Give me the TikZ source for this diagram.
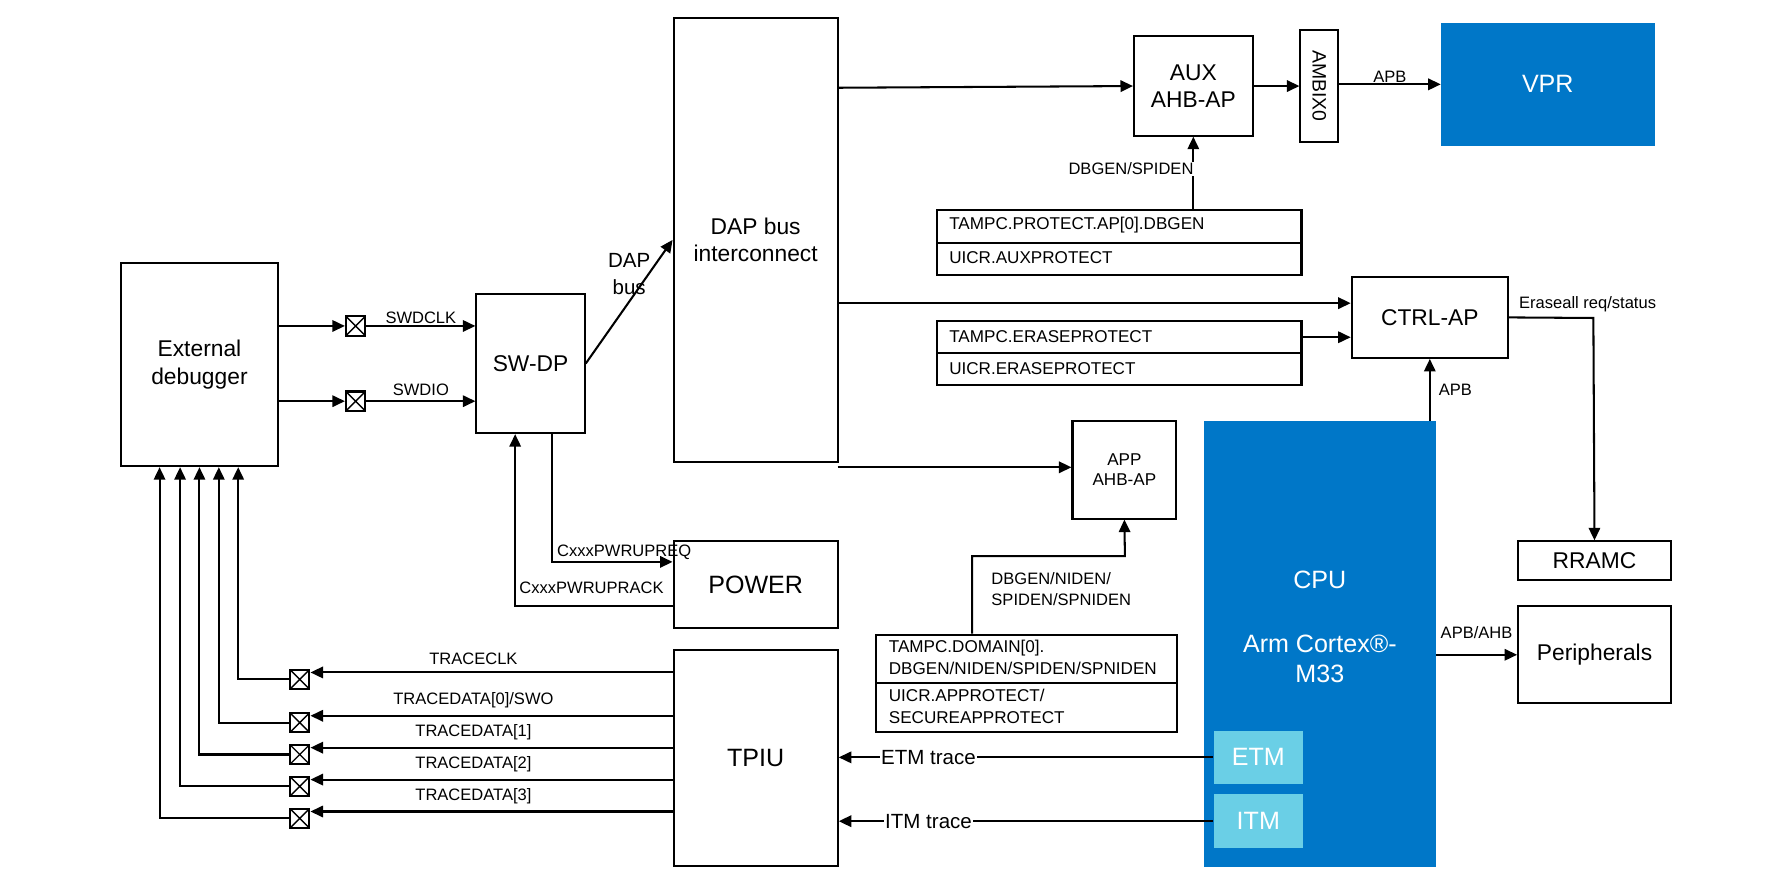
\documentclass[tikz,border=0pt]{standalone}
\usepackage{fontspec}
\setmainfont{Liberation Sans}
\usetikzlibrary{arrows.meta}
\definecolor{nblue}{HTML}{0077C8}
\definecolor{lblue}{HTML}{6ACFE6}
\begin{document}
\begin{tikzpicture}[x=1pt,y=-1pt,line width=1.8pt,
 box/.style={draw,line width=1.8pt,inner sep=0,align=center,font=\fontsize{20}{24}\selectfont},
 tbl/.style={draw,line width=1.8pt,inner sep=0,anchor=north west},
 lbl/.style={font=\fontsize{14.5}{18}\selectfont,inner sep=1pt},
 sl/.style={font=\fontsize{15}{19}\selectfont,inner sep=0,anchor=west,align=left},
 arr/.style={-{Triangle[length=11pt,width=10pt]}},
 xbox/.style={draw,line width=1.8pt,minimum size=17,inner sep=0,path picture={\draw[line width=1.2pt] (path picture bounding box.south west)--(path picture bounding box.north east) (path picture bounding box.north west)--(path picture bounding box.south east);}},
 blue/.style={fill=nblue,draw=nblue,text=white,inner sep=0,align=center}]
\useasboundingbox (0,0) rectangle (1560,783);
% main boxes
\node[box,minimum width=138,minimum height=178] (ext) at (175,320) {External\\debugger};
\node[box,minimum width=95,minimum height=122] (swdp) at (465.5,319) {SW-DP};
\node[box,minimum width=144,minimum height=389] (dap) at (663,210.5) {DAP bus\\interconnect};
\node[box,minimum width=104,minimum height=87] (aux) at (1047,75.5) {AUX\\AHB-AP};
\node[box,minimum width=33,minimum height=99] (ambix) at (1157.5,75.5) {};
\node[rotate=-90,font=\fontsize{17}{20}\selectfont] at (ambix) {AMBIX0};
\node[blue,minimum width=186,minimum height=106,font=\fontsize{22}{26}\selectfont] (vpr) at (1358,74) {VPR};
\node[box,minimum width=137,minimum height=71] (ctrl) at (1254.5,278.5) {CTRL-AP};
\node[box,minimum width=134,minimum height=34] (rramc) at (1399,492) {RRAMC};
\node[box,minimum width=134,minimum height=85] (per) at (1399,574.5) {Peripherals};
\node[box,minimum width=91,minimum height=86,font=\fontsize{15}{17}\selectfont] (app) at (986.5,412) {APP\\AHB-AP};
\node[box,minimum width=144,minimum height=76,font=\fontsize{22}{26}\selectfont] (pow) at (663,513) {POWER};
\node[box,minimum width=144,minimum height=190,font=\fontsize{22}{26}\selectfont] (tpiu) at (663,665) {TPIU};
% CPU
\node[blue,minimum width=202,minimum height=390] (cpu) at (1158,565) {};
\node[text=white,font=\fontsize{22}{26}\selectfont] at (1158,509) {CPU};
\node[text=white,align=center,font=\fontsize{22}{26}\selectfont] at (1158,578) {Arm Cortex®-\\M33};
\node[fill=lblue,inner sep=0,minimum width=78,minimum height=47,text=white,font=\fontsize{22}{26}\selectfont] (etm) at (1104,664.5) {ETM};
\node[fill=lblue,inner sep=0,minimum width=78,minimum height=47,text=white,font=\fontsize{22}{26}\selectfont] (itm) at (1104,720.5) {ITM};
% tables
\node[tbl,minimum width=320,minimum height=29] (t1a) at (821,183) {};
\node[tbl,minimum width=320,minimum height=28] (t1b) at (821,212) {};
\node[sl] at (832,197.5) {TAMPC.PROTECT.AP[0].DBGEN};
\node[sl] at (832,226) {UICR.AUXPROTECT};
\node[tbl,minimum width=320,minimum height=28] (t2a) at (821,281) {};
\node[tbl,minimum width=320,minimum height=28] (t2b) at (821,309) {};
\node[sl] at (832,295) {TAMPC.ERASEPROTECT};
\node[sl] at (832,323) {UICR.ERASEPROTECT};
\node[tbl,minimum width=264,minimum height=42] (t3a) at (768,556) {};
\node[tbl,minimum width=264,minimum height=43] (t3b) at (768,598) {};
\node[sl] at (779,577) {TAMPC.DOMAIN[0].\\DBGEN/NIDEN/SPIDEN/SPNIDEN};
\node[sl] at (779,619.5) {UICR.APPROTECT/\\SECUREAPPROTECT};
% SW lines
\node[xbox] (x1) at (312,286) {};
\node[xbox] (x2) at (312,352) {};
\draw[arr] (ext.east|-x1) -- (x1);
\draw[arr] (x1) -- (swdp.west|-x1) node[lbl,midway,above] {SWDCLK};
\draw[arr] (ext.east|-x2) -- (x2);
\draw[arr] (x2) -- (swdp.west|-x2) node[lbl,midway,above,yshift=3] {SWDIO};
\draw[arr] (swdp.east) -- (dap.west) node[midway,above,align=center,font=\fontsize{18}{24}\selectfont,yshift=2] {DAP\\bus};
% DAP outputs
\coordinate (d1) at (735,77);
\draw[arr] (d1) -- (aux.west);
\draw[arr] (aux.east) -- (ambix.west|-aux.east);
\draw[arr] (ambix.east|-vpr.west) -- (vpr.west) node[lbl,midway,above] {APB};
\draw[arr] (t1a.north-|aux) -- (aux.south) node[lbl,pos=0.55,left=-2pt,fill=white] {DBGEN/SPIDEN};
\coordinate (d2) at (735,266);
\draw[arr] (d2) -- (ctrl.west|-d2);
\draw[arr] (t2a.east) -- (ctrl.west|-t2a.east);
\draw[arr] (ctrl.south|-cpu.north) -- (ctrl.south) node[lbl,midway,right=6pt] {APB};
\draw[arr] (ctrl.east) -- (1398,279) -- (rramc.north);
\node[lbl,anchor=south west] at (1331,276) {Eraseall req/status};
\draw[arr] (cpu.east|-per) -- (per.west) node[lbl,midway,above=12pt] {APB/AHB};
\coordinate (d3) at (735,410);
\draw[arr] (d3) -- (app.west|-d3);
\draw[arr] (t3a.north-|853,0) -- (853,488) -- (987,488) -- (app.south);
\node[sl,font=\fontsize{14.5}{18}\selectfont] at (869,517) {DBGEN/NIDEN/\\SPIDEN/SPNIDEN};
% power
\draw[arr] (swdp.south-|484,0) -- (484,493) -- (pow.west|-0,493) node[lbl,pos=0.6,above] {CxxxPWRUPREQ};
\draw[arr] (pow.west|-0,532) -- (452,532) -- (swdp.south-|452,0);
\node[lbl] at (519,516) {CxxxPWRUPRACK};
% trace
\foreach \n/\y/\xx/\t in {a/590/209/TRACECLK,b/628/192/{TRACEDATA[0]/SWO},c/656/175/{TRACEDATA[1]},d/684/158/{TRACEDATA[2]},e/712/140/{TRACEDATA[3]}}{
 \node[xbox] (tx\n) at (263,\y+6) {};
 \coordinate (ty\n) at (tx\n.east|-0,\y);
 \draw[arr] (tpiu.west|-ty\n) -- (ty\n) node[lbl,pos=0.55,above=5pt] {\t};
 \draw[arr] (tx\n.west) -- (\xx,0|-tx\n) -- (ext.south-|\xx,0);
}
\draw[arr] (etm.west) -- (tpiu.east|-etm.west) node[pos=0.76,fill=white,inner sep=1pt,font=\fontsize{18}{22}\selectfont] {ETM trace};
\draw[arr] (itm.west) -- (tpiu.east|-itm.west) node[pos=0.76,fill=white,inner sep=1pt,font=\fontsize{18}{22}\selectfont] {ITM trace};
\end{tikzpicture}
\end{document}
